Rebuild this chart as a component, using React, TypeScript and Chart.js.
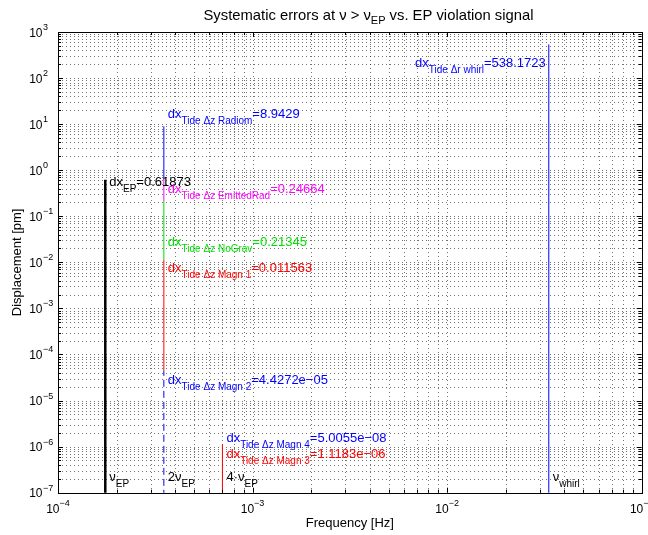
import React, { useEffect, useRef } from 'react';
import { Chart, registerables } from 'chart.js';

Chart.register(...registerables);

// ---------- axis ranges & decades ----------
const xMin = 1e-4;
const xMax = 1e-1;
const yMin = 1e-7;
const yMax = 1e3;
const xDecades = [-4, -3, -2, -1];
const yDecades = [-7, -6, -5, -4, -3, -2, -1, 0, 1, 2, 3];

// ---------- vertical error lines ----------
const seriesNames = ['EP', 'Radiom', 'EmittedRad', 'NoGrav', 'Magn1', 'Magn2', 'Magn3', 'Magn4', 'Whirl'];
const seriesFreqs = [1.75e-4, 3.5e-4, 3.5e-4, 3.5e-4, 3.5e-4, 3.5e-4, 7e-4, 7e-4, 0.0333];
const seriesTops = [0.61873, 8.9429, 0.667, 0.21345, 0.011563, 4.4272e-5, 1.1183e-6, 5.0055e-8, 538.1723];
const seriesColors = ['#000000', '#0000ff', '#ff00ff', '#00e000', '#ff0000', '#0000ff', '#ff0000', '#0000ff', '#0000ff'];
const seriesWidths = [2.5, 1, 1, 1, 1, 1, 1, 1, 1];
const seriesDashed = [false, false, false, false, false, true, false, false, false];

// ---------- annotations ----------
const labelSubs = ['EP', 'Tide Δz Radiom', 'Tide Δz EmittedRad', 'Tide Δz NoGrav', 'Tide Δz Magn 1', 'Tide Δz Magn 2', 'Tide Δz Magn 3', 'Tide Δz Magn 4', 'Tide Δr whirl'];
const labelValues = ['0.61873', '8.9429', '0.24664', '0.21345', '0.011563', '4.4272e−05', '1.1183e−06', '5.0055e−08', '538.1723'];
const labelY = [0.4544, 13.6, 0.32, 0.02321, 0.006173, 2.288e-5, 5.664e-7, 1.26e-6, 173.9];
const labelAlign = ['left', 'left', 'left', 'left', 'left', 'left', 'left', 'left', 'right'];

// frequency labels at the bottom
const freqLabelFreqs = [1.75e-4, 3.5e-4, 7e-4, 0.0333];
const freqLabelMain = ['ν', '2ν', '4·ν', 'ν'];
const freqLabelSub = ['EP', 'EP', 'EP', 'whirl'];
const freqLabelY = 1.8e-7;

const FONT = '"Liberation Sans", Arial, Helvetica, sans-serif';
const FLOOR = 1e-9;

function segmentBottom(i: number): number {
  let b = FLOOR;
  for (let j = 0; j < seriesTops.length; j++) {
    if (j !== i && seriesFreqs[j] === seriesFreqs[i] && seriesTops[j] < seriesTops[i] && seriesTops[j] > b) {
      b = seriesTops[j];
    }
  }
  return b;
}

function tickValues(decades: number[], max: number) {
  const out: { v: number; major: boolean }[] = [];
  for (const e of decades) {
    for (let m = 1; m <= 9; m++) {
      const v = m * Math.pow(10, e);
      if (v <= max * 1.0000001) out.push({ v, major: m === 1 });
      if (v >= max * 0.9999999) break;
    }
  }
  return out;
}
const xTicks = tickValues(xDecades, xMax);
const yTicks = tickValues(yDecades, yMax);

type Part = { t: string; size: number; dy: number };

function drawParts(ctx: CanvasRenderingContext2D, parts: Part[], x: number, y: number, align: string, color: string) {
  let total = 0;
  for (const p of parts) {
    ctx.font = `${p.size}px ${FONT}`;
    total += ctx.measureText(p.t).width;
  }
  let cx = align === 'left' ? x : align === 'right' ? x - total : x - total / 2;
  ctx.fillStyle = color;
  ctx.textAlign = 'left';
  ctx.textBaseline = 'alphabetic';
  for (const p of parts) {
    ctx.font = `${p.size}px ${FONT}`;
    ctx.fillText(p.t, cx, y + p.dy);
    cx += ctx.measureText(p.t).width;
  }
}

const decorPlugin = {
  id: 'matlabDecor',
  beforeDatasetsDraw(chart: any) {
    const ctx: CanvasRenderingContext2D = chart.ctx;
    const xs = chart.scales.x;
    const ys = chart.scales.y;
    const a = chart.chartArea;
    ctx.save();
    ctx.fillStyle = '#ffffff';
    ctx.fillRect(a.left, a.top, a.right - a.left, a.bottom - a.top);
    ctx.strokeStyle = 'rgba(0,0,0,0.55)';
    ctx.lineWidth = 1;
    ctx.setLineDash([1, 3]);
    ctx.beginPath();
    for (const t of xTicks) {
      const px = Math.round(xs.getPixelForValue(t.v)) + 0.5;
      ctx.moveTo(px, a.top);
      ctx.lineTo(px, a.bottom);
    }
    for (const t of yTicks) {
      const py = Math.round(ys.getPixelForValue(t.v)) + 0.5;
      ctx.moveTo(a.left, py);
      ctx.lineTo(a.right, py);
    }
    ctx.stroke();
    ctx.restore();
  },
  afterDraw(chart: any) {
    const ctx: CanvasRenderingContext2D = chart.ctx;
    const xs = chart.scales.x;
    const ys = chart.scales.y;
    const a = chart.chartArea;
    ctx.save();

    // annotations
    for (let i = 0; i < seriesNames.length; i++) {
      const px = xs.getPixelForValue(seriesFreqs[i]);
      const py = ys.getPixelForValue(labelY[i]);
      const parts: Part[] = [
        { t: 'dx', size: 13, dy: 0 },
        { t: labelSubs[i], size: 10, dy: 6 },
        { t: '=' + labelValues[i], size: 13, dy: 0 },
      ];
      const align = labelAlign[i];
      drawParts(ctx, parts, align === 'right' ? px - 3 : px + 4, py, align, seriesColors[i]);
    }
    for (let i = 0; i < freqLabelFreqs.length; i++) {
      const px = xs.getPixelForValue(freqLabelFreqs[i]);
      const py = ys.getPixelForValue(freqLabelY);
      drawParts(ctx, [
        { t: freqLabelMain[i], size: 13, dy: 0 },
        { t: freqLabelSub[i], size: 10, dy: 6 },
      ], px + 4, py, 'left', '#000000');
    }

    // frame
    ctx.setLineDash([]);
    ctx.strokeStyle = '#000000';
    ctx.lineWidth = 1;
    ctx.strokeRect(Math.round(a.left) + 0.5, Math.round(a.top) + 0.5, Math.round(a.right) - Math.round(a.left), Math.round(a.bottom) - Math.round(a.top));

    // tick marks (inward, all four sides)
    ctx.beginPath();
    for (const t of xTicks) {
      const px = Math.round(xs.getPixelForValue(t.v)) + 0.5;
      const len = t.major ? 5 : 3;
      ctx.moveTo(px, a.bottom);
      ctx.lineTo(px, a.bottom - len);
      ctx.moveTo(px, a.top);
      ctx.lineTo(px, a.top + len);
    }
    for (const t of yTicks) {
      const py = Math.round(ys.getPixelForValue(t.v)) + 0.5;
      const len = t.major ? 5 : 3;
      ctx.moveTo(a.left, py);
      ctx.lineTo(a.left + len, py);
      ctx.moveTo(a.right, py);
      ctx.lineTo(a.right - len, py);
    }
    ctx.stroke();

    // tick labels
    for (const e of yDecades) {
      const py = ys.getPixelForValue(Math.pow(10, e));
      ctx.fillStyle = '#000';
      ctx.font = `12px ${FONT}`;
      ctx.textAlign = 'right';
      ctx.textBaseline = 'alphabetic';
      ctx.fillText('10', a.left - 15.5, py + 4.5);
      ctx.font = `9px ${FONT}`;
      ctx.textAlign = 'left';
      ctx.fillText(String(e).replace('-', '−'), a.left - 15, py - 2);
    }
    for (const e of xDecades) {
      const px = xs.getPixelForValue(Math.pow(10, e));
      drawParts(ctx, [
        { t: '10', size: 12, dy: 0 },
        { t: String(e).replace('-', '−'), size: 9, dy: -7 },
      ], px, a.bottom + 20.5, 'center', '#000');
    }

    // axis titles
    ctx.fillStyle = '#000';
    ctx.font = `13px ${FONT}`;
    ctx.textAlign = 'center';
    ctx.textBaseline = 'alphabetic';
    ctx.fillText('Frequency [Hz]', (a.left + a.right) / 2, 526.5);
    ctx.save();
    ctx.translate(21, (a.top + a.bottom) / 2);
    ctx.rotate(-Math.PI / 2);
    ctx.fillText('Displacement [pm]', 0, 0);
    ctx.restore();

    // title
    drawParts(ctx, [
      { t: 'Systematic errors at ν > ν', size: 14.8, dy: 0 },
      { t: 'EP', size: 11, dy: 4 },
      { t: ' vs. EP violation signal', size: 14.8, dy: 0 },
    ], 368.5, 19.5, 'center', '#000');

    ctx.restore();
  },
};

export default function App() {
  const ref = useRef<HTMLCanvasElement | null>(null);
  useEffect(() => {
    if (!ref.current) return;
    const datasets = seriesNames.map((name, i) => ({
      label: name,
      data: [
        { x: seriesFreqs[i], y: segmentBottom(i) },
        { x: seriesFreqs[i], y: seriesTops[i] },
      ],
      borderColor: seriesColors[i],
      backgroundColor: seriesColors[i],
      borderWidth: seriesWidths[i],
      borderDash: seriesDashed[i] ? [7, 4] : [],
      pointRadius: 0,
      fill: false,
      tension: 0,
    }));
    const chart = new Chart(ref.current, {
      type: 'line',
      data: { datasets },
      plugins: [decorPlugin],
      options: {
        responsive: false,
        animation: false,
        events: [],
        layout: { padding: { left: 58, top: 32, right: 6.3, bottom: 42.3 } },
        plugins: { legend: { display: false }, tooltip: { enabled: false }, title: { display: false } },
        scales: {
          x: {
            type: 'logarithmic',
            min: xMin,
            max: xMax,
            grid: { display: false, drawTicks: false },
            border: { display: false },
            ticks: { display: false },
            afterBuildTicks: (scale: any) => {
              scale.ticks = xTicks.map((t) => ({ value: t.v, major: t.major }));
            },
          },
          y: {
            type: 'logarithmic',
            min: yMin,
            max: yMax,
            grid: { display: false, drawTicks: false },
            border: { display: false },
            ticks: { display: false },
            afterBuildTicks: (scale: any) => {
              scale.ticks = yTicks.map((t) => ({ value: t.v, major: t.major }));
            },
          },
        },
      } as any,
    });
    return () => chart.destroy();
  }, []);
  return (
    <div style={{ position: 'fixed', left: 0, top: 0, width: 648, height: 535, background: '#ffffff' }}>
      <canvas ref={ref} width={648} height={535} style={{ width: 648, height: 535, display: 'block' }} />
    </div>
  );
}
